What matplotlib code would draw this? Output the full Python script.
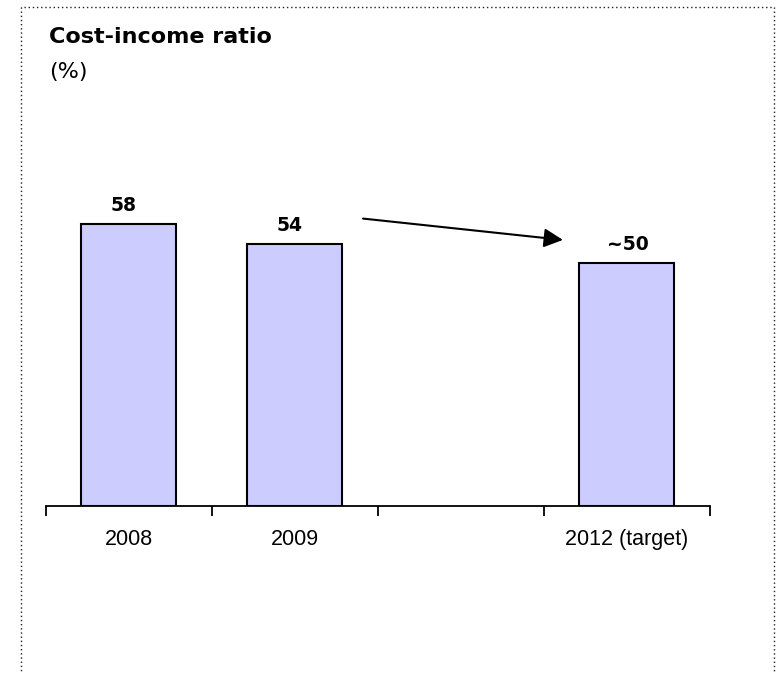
import matplotlib
matplotlib.use("Agg")
import matplotlib.pyplot as plt
from matplotlib.patches import Rectangle

categories = ["2008", "2009", "", "2012 (target)"]
values = [58, 54, None, 50]
value_labels = ["58", "54", "", "~50"]

W, H = 778, 674
fig = plt.figure(figsize=(W / 100, H / 100), dpi=100)

# dotted frame around the panel (bottom edge runs off the page)
fig.patches.append(Rectangle((21 / W, -0.05), 753 / W, 1.05 - 7 / H,
                             transform=fig.transFigure, fill=False,
                             edgecolor="#222222", linewidth=1.0,
                             linestyle=(0, (1, 2))))

fig.text(49 / W, 1 - 43 / H, "Cost-income ratio", fontsize=16,
         fontweight="bold", va="baseline", ha="left")
fig.text(49 / W, 1 - 78 / H, "(%)", fontsize=16, va="baseline", ha="left")

# baseline at y=505.7 px, ~4.85 px per percentage point
ax = fig.add_axes([45.5 / W, 1 - 505.7 / H, 664 / W, 75 * 4.85 / H])
ax.set_xlim(-0.5, 3.5)
ax.set_ylim(0, 75)

label_dx = [-3.5, -3.5, 0, 1]  # points
for i, (v, lab) in enumerate(zip(values, value_labels)):
    if v is None:
        continue
    ax.bar(i, v, width=0.57, color="#CCCCFF", edgecolor="black", linewidth=1.5)
    ax.annotate(lab, xy=(i, v), xytext=(label_dx[i], 9.5),
                textcoords="offset points", ha="center", va="baseline",
                fontsize=13.5, fontweight="bold")

# trend arrow from 2009 toward the target
ax.annotate("", xy=(2.617, values[3] + 4.8), xytext=(1.413, values[1] + 5.2),
            arrowprops=dict(arrowstyle="-|>,head_length=0.5,head_width=0.25",
                            color="black", lw=1.5, mutation_scale=23,
                            shrinkA=0, shrinkB=0))

for s in ["top", "right", "left"]:
    ax.spines[s].set_visible(False)
ax.spines["bottom"].set_linewidth(1.3)
ax.set_yticks([])

ax.set_xticks([-0.5, 0.5, 1.5, 2.5, 3.5])
ax.set_xticklabels([])
ax.tick_params(axis="x", which="major", length=7, width=1.3, direction="out")
ax.set_xticks(range(len(categories)), minor=True)
ax.set_xticklabels(categories, minor=True, fontfamily="Liberation Sans",
                   fontsize=15.5)
ax.tick_params(axis="x", which="minor", length=0, pad=17)

fig.savefig("out.png", dpi=100)
